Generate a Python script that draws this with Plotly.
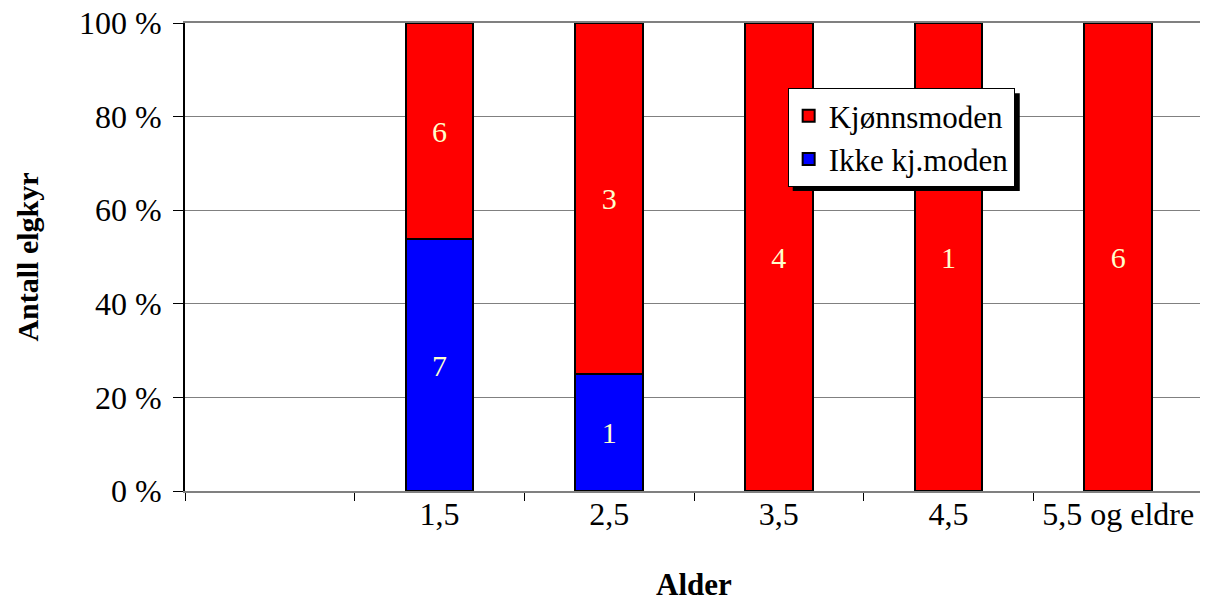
import plotly.graph_objects as go

categories = [" ", "1,5", "2,5", "3,5", "4,5", "5,5 og eldre"]
ikke_kj_moden = [0, 7, 1, 0, 0, 0]
kjonnsmoden = [0, 6, 3, 4, 1, 6]
y_ticks = [0, 20, 40, 60, 80, 100]

FONT = "Liberation Serif, Times New Roman, serif"

def labels(vals):
    return [str(v) if v else "" for v in vals]

fig = go.Figure()
fig.add_trace(go.Bar(
    x=categories, y=ikke_kj_moden, name="Ikke kj.moden",
    marker=dict(color="#0000FF", line=dict(color="black", width=2)),
    text=labels(ikke_kj_moden), textposition="inside", insidetextanchor="middle",
    textfont=dict(color="#FFFFCC", size=30, family=FONT), textangle=0,
))
fig.add_trace(go.Bar(
    x=categories, y=kjonnsmoden, name="Kjønnsmoden",
    marker=dict(color="#FF0000", line=dict(color="black", width=2)),
    text=labels(kjonnsmoden), textposition="inside", insidetextanchor="middle",
    textfont=dict(color="#FFFFCC", size=30, family=FONT), textangle=0,
))

fig.update_layout(
    barmode="stack", barnorm="percent", bargap=0.6,
    width=1200, height=594,
    margin=dict(l=177, r=5, t=15, b=111),
    paper_bgcolor="white", plot_bgcolor="white",
    font=dict(family=FONT, size=30, color="black"),
    showlegend=True,
    legend=dict(
        x=0.592, y=0.861, xanchor="left", yanchor="top",
        traceorder="reversed",
        bgcolor="white", bordercolor="black", borderwidth=1,
        font=dict(family=FONT, size=31, color="black"),
    ),
)

fig.update_xaxes(
    type="category", categoryorder="array", categoryarray=categories,
    tickson="boundaries", ticks="outside", ticklen=8, tickcolor="black",
    showline=True, linecolor="#808080", linewidth=2, mirror=True,
    showgrid=False, automargin=False, ticklabelstandoff=-6,
    title=dict(text="<b>Alder</b>", font=dict(family=FONT, size=31), standoff=42),
    tickfont=dict(family=FONT, size=32),
    range=[-0.5, 5.5],
)
fig.update_yaxes(
    range=[0, 100], tickvals=y_ticks, ticktext=[f"{v} %" for v in y_ticks],
    ticks="outside", ticklen=10, tickcolor="black",
    showline=True, linecolor="black", linewidth=2,
    showgrid=True, gridcolor="#808080", gridwidth=1,
    zeroline=False, ticklabeloverflow="allow", ticklabelstandoff=5,
    automargin=False,
    title=dict(text="<b>Antall elgkyr</b>", font=dict(family=FONT, size=30), standoff=31),
    tickfont=dict(family=FONT, size=32),
)

# right frame line
fig.add_shape(type="line", xref="paper", yref="paper", x0=1, x1=1, y0=0, y1=1,
              line=dict(color="#808080", width=2))
# legend shadow
fig.add_shape(type="rect", xref="paper", yref="paper",
              x0=0.597, x1=0.820, y0=0.641, y1=0.850,
              fillcolor="black", line=dict(width=0), layer="above")

fig.write_html("out.html")
